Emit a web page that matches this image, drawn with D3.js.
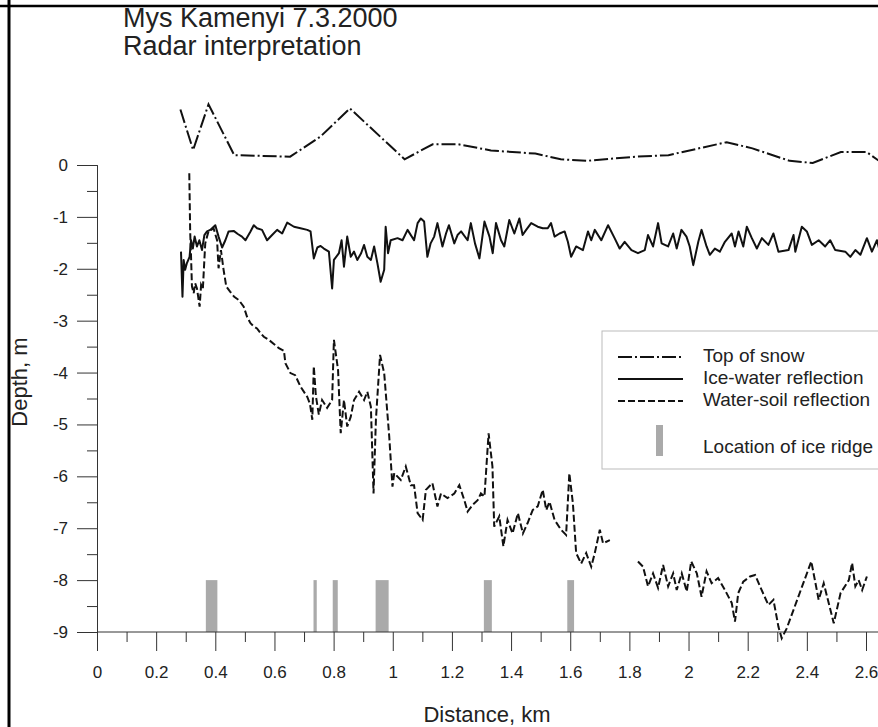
<!DOCTYPE html>
<html><head><meta charset="utf-8">
<script src="https://cdn.jsdelivr.net/npm/d3@7"></script>
<style>body{margin:0;background:#fff}svg{display:block}text{font-family:"Liberation Sans",Arial,sans-serif}</style>
</head><body><svg id="c" width="878" height="727"></svg>
<script>
// ---------- DATA ----------
const titleLines = ["Mys Kamenyi 7.3.2000", "Radar interpretation"];
const xLabel = "Distance, km";
const yLabel = "Depth, m";
const xMajorTicks = [0,0.2,0.4,0.6,0.8,1,1.2,1.4,1.6,1.8,2,2.2,2.4,2.6];
const xMinorTicks = [0.1,0.3,0.5,0.7,0.9,1.1,1.3,1.5,1.7,1.9,2.1,2.3,2.5,2.7];
const yMajorTicks = [0,-1,-2,-3,-4,-5,-6,-7,-8,-9];
const yMinorTicks = [-0.5,-1.5,-2.5,-3.5,-4.5,-5.5,-6.5,-7.5,-8.5];
const legendLabels = ["Top of snow","Ice-water reflection","Water-soil reflection","Location of ice ridge"];

// Top of snow [km, depth m]
const snowPoints = [[0.282,1.07],[0.325,0.29],[0.377,1.17],[0.464,0.19],[0.653,0.16],[0.756,0.55],[0.855,1.09],
 [1.040,0.11],[1.135,0.40],[1.221,0.40],[1.332,0.28],[1.482,0.22],[1.568,0.11],[1.655,0.08],[1.821,0.16],
 [1.932,0.19],[2.129,0.44],[2.216,0.32],[2.342,0.08],[2.420,0.04],[2.515,0.25],[2.602,0.25],[2.654,0.04]];

// Ice-water reflection [km, depth m]
const icePoints = [[0.284,-1.67],[0.289,-2.54],[0.293,-1.83],[0.298,-2.02],[0.304,-1.89],[0.313,-1.77],[0.318,-1.45],
 [0.324,-1.61],[0.330,-1.38],[0.338,-1.57],[0.346,-1.45],[0.355,-1.64],[0.363,-1.35],[0.372,-1.28],[0.383,-1.25],
 [0.400,-1.16],[0.411,-1.38],[0.423,-1.59],[0.434,-1.45],[0.445,-1.28],[0.462,-1.27],[0.476,-1.33],[0.490,-1.38],
 [0.502,-1.45],[0.519,-1.28],[0.530,-1.16],[0.541,-1.22],[0.558,-1.25],[0.575,-1.45],[0.592,-1.35],[0.609,-1.25],
 [0.626,-1.32],[0.643,-1.11],[0.666,-1.19],[0.688,-1.22],[0.711,-1.25],[0.722,-1.28],[0.733,-1.80],[0.745,-1.59],
 [0.756,-1.56],[0.767,-1.61],[0.784,-1.67],[0.795,-2.38],[0.801,-1.83],[0.818,-1.70],[0.827,-1.45],[0.835,-1.96],
 [0.846,-1.38],[0.858,-1.77],[0.869,-1.67],[0.880,-1.83],[0.893,-1.70],[0.903,-1.54],[0.914,-1.77],[0.926,-1.83],
 [0.937,-1.57],[0.948,-1.89],[0.959,-2.25],[0.971,-2.02],[0.976,-1.19],[0.984,-1.70],[0.993,-1.45],[1.016,-1.41],
 [1.033,-1.45],[1.050,-1.25],[1.072,-1.45],[1.084,-1.12],[1.095,-1.03],[1.106,-1.09],[1.117,-1.77],[1.128,-1.51],
 [1.140,-1.38],[1.151,-1.12],[1.168,-1.57],[1.180,-1.32],[1.190,-1.16],[1.208,-1.51],[1.219,-1.35],[1.231,-1.28],
 [1.253,-1.45],[1.264,-1.12],[1.278,-1.51],[1.293,-1.80],[1.310,-1.09],[1.327,-1.38],[1.338,-1.70],[1.349,-1.12],
 [1.366,-1.45],[1.377,-1.57],[1.394,-1.06],[1.411,-1.32],[1.428,-1.03],[1.439,-1.35],[1.451,-1.25],[1.468,-1.12],
 [1.490,-1.19],[1.507,-1.22],[1.524,-1.22],[1.535,-1.12],[1.547,-1.38],[1.564,-1.32],[1.581,-1.28],[1.592,-1.48],
 [1.603,-1.77],[1.620,-1.57],[1.643,-1.64],[1.660,-1.28],[1.671,-1.45],[1.683,-1.25],[1.705,-1.45],[1.728,-1.16],
 [1.750,-1.41],[1.767,-1.61],[1.784,-1.48],[1.807,-1.64],[1.829,-1.70],[1.852,-1.64],[1.863,-1.35],[1.880,-1.57],
 [1.897,-1.12],[1.909,-1.51],[1.931,-1.57],[1.948,-1.32],[1.960,-1.61],[1.976,-1.25],[1.993,-1.38],[2.004,-1.57],
 [2.016,-1.93],[2.033,-1.48],[2.044,-1.25],[2.061,-1.57],[2.072,-1.73],[2.089,-1.61],[2.106,-1.67],[2.123,-1.48],
 [2.146,-1.32],[2.157,-1.57],[2.169,-1.28],[2.185,-1.57],[2.197,-1.19],[2.214,-1.41],[2.231,-1.61],[2.248,-1.41],
 [2.270,-1.54],[2.287,-1.32],[2.304,-1.67],[2.338,-1.64],[2.355,-1.35],[2.361,-1.67],[2.383,-1.19],[2.400,-1.28],
 [2.417,-1.54],[2.440,-1.45],[2.462,-1.57],[2.479,-1.45],[2.496,-1.64],[2.530,-1.67],[2.547,-1.77],[2.564,-1.64],
 [2.581,-1.73],[2.603,-1.41],[2.620,-1.67],[2.637,-1.45],[2.647,-1.67]];

// Water-soil reflection [km, depth m]; null marks the gap in the record
const soilPoints = [[0.312,-0.16],[0.315,-1.28],[0.318,-1.77],[0.321,-2.34],[0.327,-2.47],[0.332,-2.28],[0.338,-2.38],
 [0.347,-2.73],[0.352,-2.31],[0.358,-2.38],[0.363,-1.83],[0.366,-1.51],[0.377,-1.28],[0.394,-1.22],[0.406,-1.45],
 [0.411,-1.99],[0.419,-1.64],[0.428,-2.02],[0.437,-2.34],[0.450,-2.44],[0.464,-2.54],[0.479,-2.60],[0.496,-2.73],
 [0.507,-2.92],[0.519,-3.05],[0.530,-3.11],[0.541,-3.15],[0.553,-3.24],[0.564,-3.31],[0.581,-3.37],[0.598,-3.45],
 [0.615,-3.53],[0.632,-3.58],[0.637,-3.82],[0.654,-4.01],[0.670,-4.05],[0.688,-4.27],[0.711,-4.47],[0.720,-4.60],
 [0.728,-4.91],[0.733,-3.88],[0.740,-4.45],[0.750,-4.81],[0.761,-4.53],[0.778,-4.68],[0.795,-4.53],[0.801,-3.37],
 [0.815,-3.95],[0.824,-5.17],[0.835,-4.53],[0.846,-5.04],[0.858,-4.85],[0.869,-4.53],[0.886,-4.37],[0.903,-4.53],
 [0.914,-4.37],[0.926,-4.66],[0.935,-6.33],[0.943,-4.91],[0.957,-3.66],[0.971,-4.01],[0.988,-5.23],[0.999,-6.20],
 [1.005,-5.94],[1.027,-6.07],[1.044,-5.81],[1.061,-6.17],[1.072,-6.17],[1.084,-6.71],[1.101,-6.84],[1.112,-6.26],
 [1.134,-6.13],[1.151,-6.58],[1.163,-6.33],[1.185,-6.42],[1.208,-6.33],[1.225,-6.17],[1.242,-6.46],[1.253,-6.68],
 [1.270,-6.55],[1.287,-6.46],[1.298,-6.33],[1.310,-6.39],[1.324,-5.17],[1.337,-5.81],[1.343,-6.97],[1.360,-6.77],
 [1.374,-7.35],[1.388,-6.84],[1.405,-7.10],[1.423,-6.71],[1.440,-7.10],[1.456,-6.90],[1.473,-6.65],[1.490,-6.58],
 [1.507,-6.26],[1.519,-6.65],[1.530,-6.49],[1.547,-6.84],[1.569,-7.03],[1.586,-7.13],[1.597,-5.94],[1.609,-6.52],
 [1.620,-7.48],[1.637,-7.68],[1.654,-7.48],[1.671,-7.74],[1.683,-7.48],[1.700,-7.03],[1.711,-7.29],[1.734,-7.23],
 null,
 [1.829,-7.64],[1.846,-7.74],[1.863,-8.12],[1.880,-7.87],[1.897,-8.15],[1.914,-7.71],[1.931,-8.12],[1.948,-7.87],
 [1.960,-8.19],[1.977,-7.87],[1.994,-8.22],[2.009,-7.64],[2.028,-7.87],[2.044,-8.32],[2.061,-7.83],[2.078,-8.06],
 [2.100,-7.96],[2.123,-8.19],[2.146,-8.44],[2.157,-8.80],[2.168,-8.25],[2.185,-8.03],[2.208,-7.93],[2.225,-7.90],
 [2.247,-8.19],[2.270,-8.48],[2.287,-8.38],[2.304,-8.90],[2.315,-9.12],[2.332,-8.93],[2.415,-7.64],[2.440,-8.38],
 [2.457,-8.06],[2.491,-8.83],[2.514,-8.25],[2.542,-8.00],[2.553,-7.67],[2.564,-8.12],[2.575,-8.00],[2.587,-8.19],
 [2.603,-7.93]];

// Ice ridges [start km, end km]; drawn from depth -8 to -9
const ridgeStart = [0.368,0.732,0.797,0.942,1.308,1.590];
const ridgeEnd   = [0.407,0.743,0.814,0.986,1.335,1.613];
const ridgeDepthTop = -8, ridgeDepthBottom = -9;

// ---------- DRAW ----------
const W = 878, H = 727;
const svg = d3.select("#c");
const x = d3.scaleLinear().domain([0, 2.6]).range([97, 866]);
const y = d3.scaleLinear().domain([0, -9]).range([165, 632]);
const ink = "#111", axisCol = "#333";
const fmt = d => String(d);   // plain hyphen-minus like the reference

// frame edges (left & top)
svg.append("line").attr("x1",9).attr("x2",9).attr("y1",0).attr("y2",H).attr("stroke","#000").attr("stroke-width",3);
svg.append("line").attr("x1",0).attr("x2",W).attr("y1",6).attr("y2",6).attr("stroke","#000").attr("stroke-width",2.5);

// title
svg.append("g").selectAll("text").data(titleLines).join("text")
  .attr("x",123).attr("y",(d,i)=>27+i*28).attr("font-size",27).attr("fill","#222").text(d=>d);

// ridges
svg.append("g").selectAll("rect").data(ridgeStart).join("rect")
  .attr("x",(d)=>x(d)).attr("width",(d,i)=>x(ridgeEnd[i])-x(d))
  .attr("y",y(ridgeDepthTop)).attr("height",y(ridgeDepthBottom)-y(ridgeDepthTop))
  .attr("fill","#aaa");

// axes
const gx = svg.append("g").attr("transform",`translate(0,${y(-9)})`);
gx.append("line").attr("x1",x(0)).attr("x2",W).attr("stroke",axisCol);
gx.append("g").call(d3.axisBottom(x).tickValues(xMajorTicks).tickSize(19).tickPadding(15).tickFormat(fmt));
gx.append("g").call(d3.axisBottom(x).tickValues(xMinorTicks).tickSize(10).tickFormat(() => ""));
const gy = svg.append("g").attr("transform",`translate(${x(0)},0)`);
gy.append("g").call(d3.axisLeft(y).tickValues(yMajorTicks).tickSize(20).tickPadding(9).tickFormat(fmt));
gy.append("g").call(d3.axisLeft(y).tickValues(yMinorTicks).tickSize(10).tickFormat(() => ""));
gx.selectAll(".domain").remove();
gy.selectAll(".domain").attr("stroke",axisCol);
svg.selectAll(".tick line").attr("stroke",axisCol);
svg.selectAll(".tick text").attr("font-size",17).attr("fill","#222").attr("font-family","'Liberation Sans',Arial,sans-serif");

// axis titles
svg.append("text").attr("x",487).attr("y",722).attr("text-anchor","middle").attr("font-size",22).attr("fill","#222").text(xLabel);
svg.append("text").attr("transform","translate(27,382) rotate(-90)").attr("text-anchor","middle").attr("font-size",22).attr("fill","#222").text(yLabel);

// series
const line = d3.line().defined(d=>d!==null).x(d=>x(d[0])).y(d=>y(d[1]));
svg.append("path").datum(snowPoints).attr("d",line).attr("fill","none").attr("stroke",ink).attr("stroke-width",2).attr("stroke-dasharray","14,3,2,3");
svg.append("path").datum(icePoints).attr("d",line).attr("fill","none").attr("stroke",ink).attr("stroke-width",2).attr("stroke-linejoin","round");
svg.append("path").datum(soilPoints).attr("d",line).attr("fill","none").attr("stroke",ink).attr("stroke-width",2).attr("stroke-dasharray","7,3");

// legend
const lg = svg.append("g");
lg.append("rect").attr("x",602).attr("y",331).attr("width",300).attr("height",138).attr("fill","#fff").attr("stroke","#bbb");
const legendDash = ["14,3,2,3", null, "7,3"];
const rowsY = [362,384,406];
legendDash.forEach((dash,i)=>{
  lg.append("line").attr("x1",618).attr("x2",683).attr("y1",rowsY[i]-5).attr("y2",rowsY[i]-5)
    .attr("stroke",ink).attr("stroke-width",2).attr("stroke-dasharray",dash);
  lg.append("text").attr("x",703).attr("y",rowsY[i]).attr("font-size",19).attr("fill","#222").text(legendLabels[i]);
});
lg.append("rect").attr("x",656).attr("y",425).attr("width",7).attr("height",31).attr("fill","#aaa");
lg.append("text").attr("x",703).attr("y",453).attr("font-size",19).attr("fill","#222").text(legendLabels[3]);
</script></body></html>
